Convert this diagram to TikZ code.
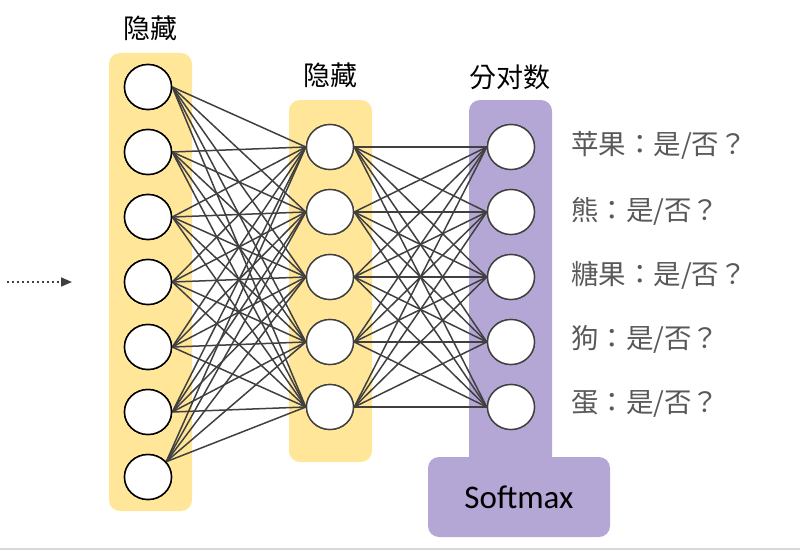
\documentclass[tikz,border=0pt]{standalone}
\usepackage{fontspec}
\setmainfont{Carlito}
\newfontfamily\cjk{Noto Sans CJK TC}
\usetikzlibrary{shapes.geometric,arrows.meta}
\definecolor{yel}{HTML}{FFE699}
\definecolor{pur}{HTML}{B4A7D6}
\definecolor{edgec}{HTML}{404040}
\definecolor{lbl}{HTML}{595959}
\begin{document}
\begin{tikzpicture}[x=1pt,y=-1pt,
  colbox/.style={rounded corners=11pt, inner sep=0pt, draw=none},
  neuron/.style={ellipse, draw=black, line width=1.5pt, fill=white, minimum width=47pt, minimum height=45pt, inner sep=0pt},
  neuronb/.style={neuron, draw=edgec, line width=1.4pt},
  conn/.style={draw=edgec, line width=1.5pt},
  head/.style={font=\fontsize{27}{30}\selectfont\cjk, text=black},
  outl/.style={anchor=west, font=\fontsize{27.5}{30}\selectfont\cjk, text=lbl, inner sep=0pt},
  dotarrow/.style={draw=edgec, line width=1.6pt, dash pattern=on 1.6pt off 3.4pt, -{Triangle[length=11pt,width=9pt]}}
]
\useasboundingbox (0,0) rectangle (800,551);
% column backgrounds
\node[colbox, fill=yel, minimum width=83pt, minimum height=458pt] (L) at (150.5,282) {};
\node[colbox, fill=yel, minimum width=83pt, minimum height=362pt] (M) at (330.5,281) {};
\node[colbox, fill=pur, minimum width=83pt, minimum height=372pt] (R) at (510.5,286) {};
\node[colbox, fill=pur, minimum width=182pt, minimum height=80pt, font=\fontsize{33}{36}\selectfont] (S) at (519,497) {Softmax};
% headers
\node[head] (h1) at (150,28) {隐藏};
\node[head] (h2) at (330,75) {隐藏};
\node[head] (h3) at (510,77) {分对数};
% neurons
\foreach \i in {1,...,7} {
  \node[neuron] (l\i) at (148,{87+65*(\i-1)}) {};
}
\foreach \j in {1,...,5} {
  \node[neuronb] (m\j) at (330,{147+65*(\j-1)}) {};
  \node[neuronb] (r\j) at (511,{147+65*(\j-1)}) {};
}
% connections
\foreach \i/\a in {1/east,2/east,3/east,4/east,5/east,6/east,7/40} {
  \foreach \j in {1,...,5} {
    \draw[conn] (l\i.\a) -- (m\j.west);
  }
}
\foreach \i in {1,...,5} {
  \foreach \j in {1,...,5} {
    \draw[conn] (m\i.east) -- (r\j.west);
  }
}
% redraw neurons on top
\foreach \i in {1,...,7} {
  \node[neuron] at (l\i) {};
}
\foreach \j in {1,...,5} {
  \node[neuronb] at (m\j) {};
  \node[neuronb] at (r\j) {};
}
% output labels
\node[outl] (o1) at (571,145) {苹果：是/否？};
\node[outl] (o2) at (571,211) {熊：是/否？};
\node[outl] (o3) at (571,275) {糖果：是/否？};
\node[outl] (o4) at (571,339) {狗：是/否？};
\node[outl] (o5) at (571,404) {蛋：是/否？};
% input arrow
\coordinate (a0) at (7,282);
\coordinate (a1) at (72,282);
\draw[dotarrow] (a0) -- (a1);
% bottom rule
\coordinate (b0) at (0,549);
\coordinate (b1) at (800,549);
\draw[gray!30, line width=1.5pt] (b0) -- (b1);
\end{tikzpicture}
\end{document}
